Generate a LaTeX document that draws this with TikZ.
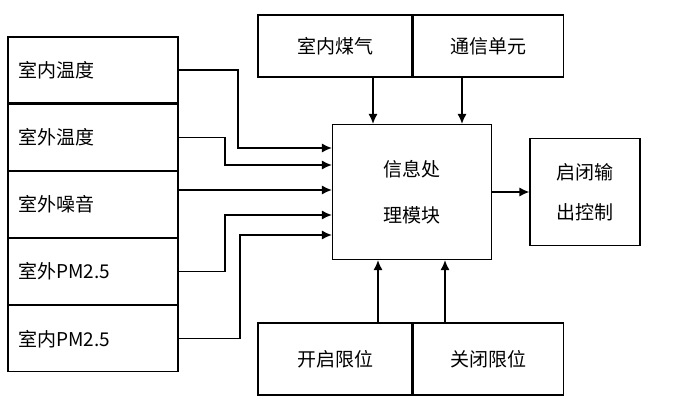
\documentclass[tikz,border=0pt]{standalone}
\usepackage{fontspec}
\setmainfont{Liberation Serif}
\newfontfamily\cjk{Noto Sans CJK SC}
\usetikzlibrary{positioning,arrows.meta}
\tikzset{
  box/.style={draw, line width=1.2pt, font=\cjk\fontsize{19}{23}\selectfont, inner sep=0pt},
  lbox/.style={box, minimum width=170, minimum height=66, text width=150, align=left},
  arr/.style={line width=1.2pt, -{Latex[length=10pt,width=9pt]}}
}
\begin{document}
\begin{tikzpicture}[x=1pt,y=-1pt]
  \useasboundingbox (0,0) rectangle (693,414);
  % left inputs
  \node[lbox] (tin) at (93,70) {室内温度};
  \node[lbox, below=0pt of tin] (tout) {室外温度};
  \node[lbox, below=0pt of tout] (noise) {室外噪音};
  \node[lbox, below=0pt of noise] (pmout) {室外PM2.5};
  \node[lbox, below=0pt of pmout] (pmin) {室内PM2.5};
  % top and bottom
  \node[box, minimum width=154, minimum height=62] (gas) at (335,46) {室内煤气};
  \node[box, minimum width=150, minimum height=62, right=0pt of gas] (comm) {通信单元};
  \node[box, minimum width=154, minimum height=72] (open) at (335,359) {开启限位};
  \node[box, minimum width=150, minimum height=72, right=0pt of open] (close) {关闭限位};
  % centre and output
  \node[box, minimum width=159, minimum height=135, align=center, font=\cjk\fontsize{19}{46}\selectfont] (proc) at (412,192) {信息处\\理模块};
  \node[box, minimum width=110, minimum height=107, align=center, font=\cjk\fontsize{19}{40}\selectfont] (outc) at (585,192) {启闭输\\出控制};
  % connectors
  \draw[arr] (tin.east) -| (238,148) -- (proc.west |- 0,148);
  \draw[arr] (tout.east) -| (225,165) -- (proc.west |- 0,165);
  \draw[arr] (noise.east |- 0,190) -- (proc.west |- 0,190);
  \draw[arr] (pmout.east) -| (225,215) -- (proc.west |- 0,215);
  \draw[arr] (pmin.east) -| (240,235) -- (proc.west |- 0,235);
  \draw[arr] (gas.south -| 373,0) -- (proc.north -| 373,0);
  \draw[arr] (comm.south -| 462,0) -- (proc.north -| 462,0);
  \draw[arr] (open.north -| 378,0) -- (proc.south -| 378,0);
  \draw[arr] (close.north -| 445,0) -- (proc.south -| 445,0);
  \draw[arr] (proc.east) -- (outc.west);
\end{tikzpicture}
\end{document}
